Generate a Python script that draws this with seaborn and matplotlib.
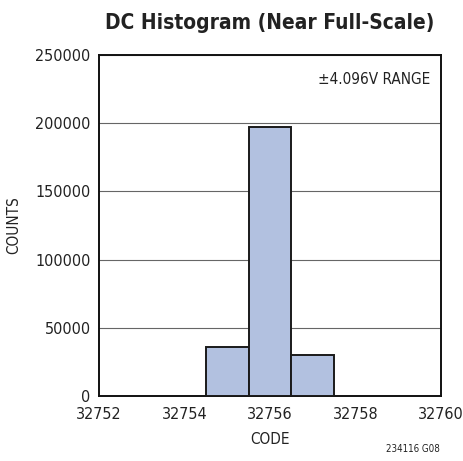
import matplotlib
matplotlib.use("Agg")
import matplotlib.pyplot as plt
import seaborn as sns

# Histogram data
codes = [32755, 32756, 32757]
counts = [36000, 197000, 30000]
x_ticks = [32752, 32754, 32756, 32758, 32760]
y_ticks = [0, 50000, 100000, 150000, 200000, 250000]

sns.set_style("white")
plt.rcParams['font.family'] = ['DejaVu Sans']
plt.rcParams['font.stretch'] = 'condensed'

fig = plt.figure(figsize=(4.63, 4.61), dpi=100)
ax = fig.add_axes([99 / 463, 65 / 461, 342 / 463, 341 / 461])

sns.histplot(x=codes, weights=counts, discrete=True, shrink=1, ax=ax,
             color='#B2C1E0', edgecolor='#1a1a1a', linewidth=1.4, alpha=1, zorder=3)

ax.set_xlim(32752, 32760)
ax.set_ylim(0, 250000)
ax.set_xticks(x_ticks)
ax.set_yticks(y_ticks)
ax.set_xticklabels([str(t) for t in x_ticks])
ax.set_yticklabels([str(t) for t in y_ticks])
ax.tick_params(axis='y', length=0, labelsize=11.5, colors='#222222', pad=6)
ax.tick_params(axis='x', length=0, labelsize=11.5, colors='#222222', pad=8)
ax.grid(axis='y', color='#666666', linewidth=0.8, zorder=0)
ax.set_axisbelow(True)
for s in ax.spines.values():
    s.set_color('#111111')
    s.set_linewidth(1.4)

ax.set_xlabel('CODE', fontsize=11, color='#222222', labelpad=7)
ax.set_ylabel('COUNTS', fontsize=11, color='#222222', labelpad=10)
ax.set_title('DC Histogram (Near Full-Scale)', fontsize=15, fontweight='bold', color='#222222', pad=19)
ax.text(0.97, 0.95, '±4.096V RANGE', transform=ax.transAxes, ha='right', va='top',
        fontsize=11, color='#222222')
fig.text(440 / 463, 1 - 454 / 461, '234116 G08', ha='right', va='bottom', fontsize=7, color='#222222')

plt.savefig('out.png', dpi=100)
plt.close()
